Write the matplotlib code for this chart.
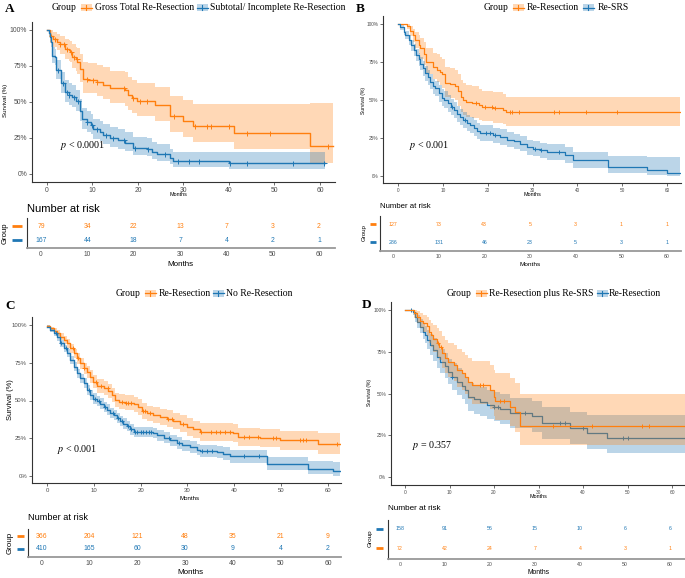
import numpy as np
import matplotlib
matplotlib.use('Agg')
import matplotlib.pyplot as plt
from matplotlib.patches import Rectangle
from matplotlib import font_manager

W, H = 685, 578
ORANGE = '#FF7F0E'
BLUE = '#1F77B4'

# ---------------- Panel A data ----------------
a_o_t = [0, 0.7, 1.3, 2.2, 2.9, 4.0, 4.75, 5.1, 5.6, 6.4, 6.7, 7.2, 7.9, 9.1, 11.0, 12.4, 13.9, 17.2, 17.9, 18.65, 19.75, 23.8, 27.1, 30.0, 32.0, 41.0, 57.9, 62.9]
a_o_s = [100, 96, 93.5, 92, 90, 87, 86, 85, 81.5, 79.6, 78, 73, 66, 65.5, 64, 62, 59.5, 58, 55, 53, 51, 48, 40, 37, 33.5, 28.7, 19.4, 19.4]
a_o_lo = [100, 91, 88, 86, 83.5, 80, 78.5, 77.5, 73.5, 71.5, 69.5, 64, 56.5, 56, 54.5, 52, 49.5, 47.5, 44.5, 42.5, 40.5, 37, 29, 26, 22.5, 17.5, 7.4, 7.4]
a_o_up = [100, 100, 98.5, 97.5, 96, 94, 93, 92.5, 90, 88.5, 87.5, 83.5, 77.5, 77, 75.5, 74, 71.5, 70.5, 67.5, 65.5, 63.5, 60.5, 54, 51.5, 48.5, 48.5, 49.5, 49.5]
a_o_cens = [0.9, 1.8, 2.9, 3.8, 4.4, 5.3, 6.0, 6.6, 8.9, 10.1, 11.0, 17.0, 19.0, 20.5, 22.0, 27.9, 32.5, 35.1, 36.0, 40.1, 44.0, 49.0, 61.7]

a_b_t = [0, 0.37, 0.73, 0.95, 1.1, 1.8, 2.05, 3.15, 4.0, 4.75, 5.5, 6.4, 7.2, 7.7, 8.9, 9.65, 10.2, 11.7, 12.4, 13.9, 15.7, 17.2, 19.0, 21.9, 23.0, 24.1, 27.1, 27.8, 39.9, 61.1]
a_b_s = [100, 97.7, 95, 92, 82, 81, 72, 63, 57, 55, 53.7, 50.7, 44, 38, 36, 34, 31, 29.4, 27, 25, 23.6, 21.8, 18.3, 17.6, 15.5, 13.7, 11.3, 8.8, 7.4, 7.4]
a_b_lo = [100, 95.5, 92, 88.5, 77, 76, 66, 56.5, 50, 48, 46.5, 43.5, 37, 31, 29, 27.5, 24.5, 23, 21, 19, 17.5, 16, 13, 12.3, 10.5, 9, 7, 5, 3.7, 3.7]
a_b_up = [100, 100, 98.5, 96, 88, 87, 79, 70.5, 65, 63, 61.5, 58.5, 52, 46, 43.5, 41.5, 38.5, 37, 34.5, 32.5, 31, 29, 25.5, 24.8, 22.5, 20.5, 17.5, 15.3, 15.3, 15.3]
a_b_cens = [2.5, 3.6, 4.4, 4.9, 6.0, 6.8, 8.9, 9.9, 11.0, 13.0, 14.5, 17.0, 19.3, 22.3, 26.0, 28.7, 31.2, 33.5, 40.2, 44.0, 54.0, 60.9]

a_labels = ['Gross Total Re-Resection', 'Subtotal/ Incomplete Re-Resection']
a_risk_o = [79, 34, 22, 13, 7, 3, 2]
a_risk_b = [167, 44, 18, 7, 4, 2, 1]
a_p = '$p$ < 0.0001'

# ---------------- Panel B data ----------------
b_o_t = [0, 2.0, 2.75, 3.3, 3.9, 4.6, 5.0, 5.7, 6.2, 7.8, 8.7, 9.3, 9.8, 10.5, 11.7, 12.8, 13.3, 14.0, 14.6, 15.2, 16.5, 18.0, 18.7, 21.3, 23.5, 24.1, 62.9]
b_o_s = [100, 99, 95.5, 92.5, 89.5, 86.5, 84, 80, 75, 72, 70, 68.5, 67, 61.5, 60.5, 59, 56, 52, 50, 49, 48, 46.5, 45.5, 45, 43.5, 42, 42]
b_o_lo = [100, 97, 92, 88, 84, 80, 77, 73, 67, 64, 62, 60, 58, 52, 51, 50, 46, 42, 40, 39, 38, 37, 36, 35, 34, 33, 33]
b_o_up = [100, 100, 99, 97, 95, 93, 91, 88, 84, 81, 80, 78, 77, 72, 71, 70, 67, 63, 61, 60, 59, 57, 56, 55, 54, 52, 52]
b_o_cens = [17.3, 19.3, 21.0, 21.6, 25.0, 25.5, 26.9, 34.7, 35.8, 41.9, 48.8]

b_b_t = [0, 0.5, 1.26, 1.6, 2.4, 2.9, 3.5, 4.1, 4.6, 5.0, 5.6, 6.1, 6.6, 7.2, 7.8, 8.3, 9.1, 9.8, 10.3, 11.1, 11.8, 12.4, 13.1, 13.9, 14.6, 15.4, 16.1, 16.9, 17.6, 18.3, 21.3, 22.8, 24.3, 25.8, 27.2, 28.7, 30.2, 31.7, 33.2, 37.3, 39.1, 46.9, 55.5, 59.9, 62.9]
b_b_s = [100, 97.8, 95, 92.7, 89.5, 86, 83, 79.5, 76.7, 74, 70.8, 67.5, 65, 62, 59, 57.6, 54.3, 51.6, 50.3, 47.7, 45.5, 43.3, 41, 39, 37, 35, 33.4, 31.6, 29.7, 28.4, 26.8, 25.7, 24, 22.9, 21.3, 19, 18, 17, 15.8, 13.6, 10.3, 5.9, 3.7, 2, 2]
b_b_lo = [100, 96, 92.5, 90, 86.5, 82.5, 79, 75.5, 72.5, 69.5, 66, 62.5, 60, 57, 54, 52.5, 49, 46.3, 45, 42.4, 40.2, 38, 35.7, 33.7, 31.7, 29.8, 28.2, 26.4, 24.6, 23.3, 21.8, 20.7, 19, 17.9, 16.3, 14, 13, 12, 10.8, 8.6, 5.5, 1.8, 0.5, 0, 0]
b_b_up = [100, 99.5, 97.5, 95.5, 92.7, 89.6, 87, 83.7, 81, 78.5, 75.5, 72.5, 70, 67, 64, 62.7, 59.6, 57, 55.6, 53, 50.8, 48.6, 46.3, 44.3, 42.3, 40.2, 38.6, 36.8, 34.8, 33.5, 31.8, 30.7, 29, 27.9, 26.3, 24, 23, 22, 20.8, 18.8, 16, 13, 12.5, 12.5, 12.5]
b_b_cens = [12.0, 15.0, 19.6, 20.6, 21.6, 30.5, 31.9, 35.8]

b_labels = ['Re-Resection', 'Re-SRS']
b_risk_o = [127, 73, 43, 5, 3, 1, 1]
b_risk_b = [286, 131, 46, 23, 5, 3, 1]
b_p = '$p$ < 0.001'

# ---------------- Panel C data ----------------
c_o_t = [0, 0.7, 1.4, 2.1, 2.8, 3.55, 4.26, 4.97, 5.7, 6.4, 7.1, 7.8, 8.5, 9.2, 9.9, 10.65, 12.1, 13.1, 13.85, 14.55, 15.3, 16.7, 18.5, 19.5, 20.2, 21.3, 22.7, 24.1, 25.6, 27, 28.4, 29.8, 31.25, 32.7, 39.8, 40.8, 45.5, 49.7, 57.9, 62.5]
c_o_s = [99.3, 97.8, 96.2, 94.5, 92.3, 90, 87.8, 84.5, 81.2, 77.9, 74.6, 71.2, 69, 65.7, 62.4, 59.5, 58, 56.4, 53.5, 50.2, 49.1, 48.5, 47.6, 45.8, 43.1, 41.4, 40.3, 39.2, 38, 36.5, 34.7, 32.5, 30.8, 29.2, 28.5, 25.9, 25.4, 23.7, 21, 21]
c_o_lo = [98.5, 96.5, 94.5, 92.5, 90, 87.5, 85, 81.5, 78, 74.5, 71, 67.5, 65, 61.5, 58, 55, 53.5, 51.8, 48.8, 45.5, 44.3, 43.6, 42.6, 40.7, 38, 36.2, 35, 33.9, 32.6, 31, 29.1, 26.8, 25.1, 23.4, 22.6, 20, 19.4, 17.5, 14.8, 14.8]
c_o_up = [100, 99, 98, 96.5, 94.6, 92.5, 90.6, 87.5, 84.4, 81.3, 78.2, 75, 73, 70, 67, 64, 62.6, 61, 58.2, 55, 54, 53.4, 52.6, 50.9, 48.2, 46.6, 45.6, 44.5, 43.4, 42, 40.3, 38.2, 36.5, 35, 34.4, 31.8, 31.4, 29.9, 28.5, 28.5]
c_o_cens = [5.5, 6.6, 8.0, 10.5, 11.5, 13.0, 16.0, 16.8, 17.4, 18.0, 20.6, 21.0, 22.0, 25.8, 26.6, 29.0, 32.9, 35.0, 36.0, 37.0, 38.0, 39.0, 42.0, 43.2, 45.0, 48.3, 49.0, 54.0, 54.6, 55.2, 62.0]

c_b_t = [0, 0.7, 1.4, 2.1, 2.8, 3.55, 4.26, 4.97, 5.7, 6.4, 7.1, 7.8, 8.5, 9.2, 9.9, 10.65, 11.4, 12.1, 12.8, 13.5, 14.2, 14.9, 15.6, 16.3, 17.0, 17.8, 18.5, 22.7, 23.4, 24.9, 26.3, 27.7, 28.8, 30.5, 32, 32.7, 36.2, 37.6, 39.1, 47, 55.75, 61.1, 62.5]
c_b_s = [98.9, 96.7, 94.5, 91.8, 87.8, 84.5, 81.2, 76.8, 72.3, 67.9, 64.6, 61.3, 56.9, 53.5, 51.3, 49.8, 48, 45.8, 44, 41.8, 40.3, 38.5, 36.5, 34.7, 33, 30.8, 29.2, 28.5, 27, 25.4, 23.7, 21.9, 20.4, 19.2, 17.5, 16.4, 15.9, 14.8, 13, 8.2, 4.9, 3.3, 3.3]
c_b_lo = [97.9, 95.2, 92.7, 89.7, 85.5, 82, 78.5, 74, 69.3, 64.8, 61.4, 58, 53.6, 50.1, 47.9, 46.3, 44.5, 42.3, 40.5, 38.3, 36.8, 35, 33, 31.2, 29.5, 27.3, 25.7, 24.9, 23.4, 21.8, 20, 18.2, 16.7, 15.4, 13.7, 12.5, 11.9, 10.7, 8.8, 4.3, 1.5, 0, 0]
c_b_up = [99.9, 98.2, 96.3, 93.9, 90.1, 87, 83.9, 79.6, 75.3, 71, 67.8, 64.6, 60.2, 56.9, 54.7, 53.3, 51.5, 49.3, 47.5, 45.3, 43.8, 42, 40, 38.2, 36.5, 34.3, 32.7, 32.1, 30.6, 29, 27.4, 25.6, 24.1, 23, 21.3, 20.3, 19.9, 18.9, 17.2, 12.5, 10, 9, 9]
c_b_cens = [2.0, 3.0, 4.0, 9.0, 10.2, 11.0, 12.4, 14.0, 15.2, 16.0, 17.2, 18.0, 18.8, 19.3, 20.0, 20.6, 21.2, 21.8, 22.2, 26.0, 28.2, 33.2, 34.2, 35.2, 42.0, 45.2]

c_labels = ['Re-Resection', 'No Re-Resection']
c_risk_o = [366, 204, 121, 48, 35, 21, 9]
c_risk_b = [410, 165, 60, 30, 9, 4, 2]
c_p = '$p$ < 0.001'

# ---------------- Panel D data ----------------
d_o_t = [0, 2.0, 2.6, 3.4, 4.1, 4.9, 5.5, 5.8, 6.4, 7.1, 7.7, 8.25, 9.0, 9.75, 10.9, 11.6, 12.75, 13.5, 14.25, 15, 19.1, 19.9, 20.25, 23.6, 24.75, 25.9, 63]
d_o_s = [100, 98.4, 96, 93.6, 92, 90.4, 87, 85, 82.5, 80, 78, 74, 71, 69, 67, 64, 62, 59.8, 57, 55, 51.8, 48, 45.8, 42.2, 39.2, 30.7, 30.7]
d_o_lo = [100, 95, 92, 89, 87, 84.5, 80.5, 78, 75, 72, 70, 65.5, 62, 60, 57.5, 54, 52, 49.5, 46.5, 44, 40.5, 36.5, 34, 30.5, 27, 19, 19]
d_o_up = [100, 100, 99.5, 98, 97, 96, 94, 92.5, 91, 89, 87.5, 84.5, 82, 80.5, 79, 76.5, 75, 73, 71, 69.5, 67, 64, 62.5, 59.5, 56.5, 50, 50]
d_o_cens = [7.5, 8.1, 16.9, 17.6, 21.4, 22.3, 33.2, 42.0, 53.3, 54.8]

d_b_t = [0, 1.7, 2.25, 2.8, 3.4, 4.0, 4.5, 5.0, 5.6, 6.4, 7.1, 7.9, 9.0, 9.75, 10.5, 11.6, 12.75, 13.5, 14.25, 15.4, 16.9, 18.4, 19.9, 21.4, 23.6, 28.5, 30.75, 37.1, 40.9, 45.4, 63]
d_b_s = [100, 99, 96, 93, 90, 87, 85, 82, 79, 76, 72, 69, 66.5, 63, 60, 57, 54.6, 52, 48, 46.6, 45.2, 43.2, 42.2, 40.6, 38.6, 36.3, 32.3, 29.3, 26.3, 23.3, 23.3]
d_b_lo = [100, 97, 93, 89.5, 86, 82.5, 80, 76.5, 73, 69.5, 65, 62, 59, 55.5, 52, 49, 46.5, 43.5, 39.5, 38, 36.5, 34.5, 33.5, 31.5, 29.5, 27, 23, 20, 17, 14.3, 14.3]
d_b_up = [100, 100, 99, 97, 94.5, 92, 90.5, 88, 85.5, 83, 79.5, 76.5, 74, 70.5, 68, 65, 62.5, 60, 56.5, 55, 54, 52, 51, 49.5, 47.5, 45.5, 42, 39, 37, 37, 37]
d_b_cens = [1.3, 10.5, 19.9, 21.0, 27.0, 34.9, 36.0, 39.9, 49.0, 50.0]

d_labels = ['Re-Resection plus Re-SRS', 'Re-Resection']
d_risk_b = [158, 91, 56, 15, 10, 6, 6]
d_risk_o = [72, 42, 24, 7, 4, 3, 1]
d_p = '$p$ = 0.357'

risk_times = [0, 10, 20, 30, 40, 50, 60]

# ---------------- fonts ----------------
installed = {f.name for f in font_manager.fontManager.ttflist}
SANS = 'Liberation Sans' if 'Liberation Sans' in installed else 'DejaVu Sans'
NARROW = 'Liberation Sans Narrow' if 'Liberation Sans Narrow' in installed else SANS
SERIF = 'Liberation Serif' if 'Liberation Serif' in installed else 'DejaVu Serif'
plt.rcParams['mathtext.fontset'] = 'stix'
LEG_FS = 6.9

fig = plt.figure(figsize=(W / 100, H / 100), dpi=100)


def add_ax(l, t, r, b):
    return fig.add_axes([l / W, 1 - b / H, (r - l) / W, (b - t) / H])


def surv_at(t, s, x):
    idx = np.searchsorted(np.asarray(t), np.asarray(x), side='right') - 1
    return np.asarray(s)[idx]


def draw_curve(ax, t, s, lo, up, cens, color, lw, ms, fz, lz):
    ax.fill_between(t, lo, up, step='post', color=color, alpha=0.3, lw=0, zorder=fz)
    ax.step(t, s, where='post', color=color, lw=lw, zorder=lz)
    ax.plot(cens, surv_at(t, s, cens), ls='none', marker='+', color=color,
            ms=ms, mew=0.7, zorder=lz)


def setup_plot(ax, g, fs, font):
    ppm = (g['x60'] - g['x0']) / 60.0
    ppy = (g['y0'] - g['y100']) / 100.0
    ax.set_xlim((g['left'] - g['x0']) / ppm, (g['right'] - g['x0']) / ppm)
    ax.set_ylim((g['y0'] - g['bottom']) / ppy, (g['y0'] - g['top']) / ppy)
    ax.set_xticks(risk_times)
    ax.set_yticks([0, 25, 50, 75, 100])
    ax.set_yticklabels(['0%', '25%', '50%', '75%', '100%'])
    for sp in ['top', 'right']:
        ax.spines[sp].set_visible(False)
    for sp in ['left', 'bottom']:
        ax.spines[sp].set_color('#333333')
        ax.spines[sp].set_linewidth(0.8)
    ax.tick_params(labelsize=fs, colors='#333333', labelcolor='#4D4D4D',
                   length=2, width=0.5, pad=1.5)
    for lab in ax.get_xticklabels() + ax.get_yticklabels():
        lab.set_fontfamily(font)
    ax.patch.set_alpha(0)


def setup_table(ax, g, rows, fs, font):
    ppm = (g['x60'] - g['x0']) / 60.0
    ax.set_xlim((g['left'] - g['x0']) / ppm, (g['right'] - g['x0']) / ppm)
    rt, rb = g['rt'], g['rb']
    unit = rb - rt
    ax.set_ylim(-(g['bottom'] - rb) / unit, 1 + (rt - g['top']) / unit)
    ax.set_xticks(risk_times)
    ax.set_yticks([])
    for sp in ['top', 'right']:
        ax.spines[sp].set_visible(False)
    ax.spines['left'].set_color('#333333')
    ax.spines['left'].set_linewidth(0.8)
    ax.spines['bottom'].set_color('#999999')
    ax.spines['bottom'].set_linewidth(1.3)
    ax.tick_params(axis='x', labelsize=fs, labelcolor='#4D4D4D', length=0, pad=2.5)
    for lab in ax.get_xticklabels():
        lab.set_fontfamily(font)
    for yv, vals, color in rows:
        for x, v in zip(risk_times, vals):
            ax.text(x, yv, str(v), color=color, fontsize=fs * 1.02, ha='center',
                    va='center', fontfamily=font)
    ax.patch.set_alpha(0)


panels = [
    dict(letter='A', letter_xy=(10, 9),
         plot=dict(x0=47, x60=320, y100=30, y0=174, left=32, right=335, top=22, bottom=182),
         table=dict(x0=41, x60=319, left=27, right=335, top=218, bottom=248, rt=226, rb=240),
         curves=[(a_o_t, a_o_s, a_o_lo, a_o_up, a_o_cens, ORANGE),
                 (a_b_t, a_b_s, a_b_lo, a_b_up, a_b_cens, BLUE)],
         rows=[(1, a_risk_o, ORANGE), (0, a_risk_b, BLUE)],
         labels=a_labels, leg_y=7.5, leg_x=[52, 81, 95, 197, 210],
         p=a_p, p_xy=(60, 146), p_fs=7.2,
         ylab_xy=(6, 100), ylab_fs=4.4, months_xy=(178, 195), months_fs=3.9,
         nar_xy=(27, 209), nar_fs=8.0, tmonths_xy=(180, 264), tmonths_fs=5.8,
         grp_xy=(5, 233), grp_fs=5.6, dash_x=(12, 22),
         tick_fs=4.9, ttick_fs=4.8, font=SANS, lw=1.0, ms=3.6, d_mode=False),
    dict(letter='B', letter_xy=(360, 9),
         plot=dict(x0=398, x60=667, y100=24, y0=176, left=383, right=681, top=16, bottom=183),
         table=dict(x0=393, x60=667, left=380, right=681, top=216, bottom=251, rt=224, rb=242),
         curves=[(b_o_t, b_o_s, b_o_lo, b_o_up, b_o_cens, ORANGE),
                 (b_b_t, b_b_s, b_b_lo, b_b_up, b_b_cens, BLUE)],
         rows=[(1, b_risk_o, ORANGE), (0, b_risk_b, BLUE)],
         labels=b_labels, leg_y=7.5, leg_x=[484, 513, 527, 583, 598],
         p=b_p, p_xy=(409, 146), p_fs=7.2,
         ylab_xy=(364, 101), ylab_fs=3.6, months_xy=(532, 195), months_fs=3.9,
         nar_xy=(380, 207), nar_fs=5.6, tmonths_xy=(530, 264), tmonths_fs=4.6,
         grp_xy=(364, 233), grp_fs=4.4, dash_x=(370, 376),
         tick_fs=3.4, ttick_fs=3.7, font=SANS, lw=0.9, ms=3.0, d_mode=False),
    dict(letter='C', letter_xy=(10, 306),
         plot=dict(x0=47, x60=328, y100=325, y0=476, left=32, right=341, top=317, bottom=483),
         table=dict(x0=42, x60=328, left=28, right=341, top=529, bottom=557, rt=536, rb=549),
         curves=[(c_o_t, c_o_s, c_o_lo, c_o_up, c_o_cens, ORANGE),
                 (c_b_t, c_b_s, c_b_lo, c_b_up, c_b_cens, BLUE)],
         rows=[(1, c_risk_o, ORANGE), (0, c_risk_b, BLUE)],
         labels=c_labels, leg_y=293, leg_x=[116, 145, 159, 213, 226],
         p=c_p, p_xy=(57, 449), p_fs=7.2,
         ylab_xy=(11, 400), ylab_fs=5.4, months_xy=(190, 499), months_fs=4.4,
         nar_xy=(28, 518), nar_fs=6.6, tmonths_xy=(190, 573), tmonths_fs=5.8,
         grp_xy=(10, 543), grp_fs=5.8, dash_x=(17, 24),
         tick_fs=4.3, ttick_fs=4.9, font=NARROW, lw=1.0, ms=3.2, d_mode=False),
    dict(letter='D', letter_xy=(367, 305),
         plot=dict(x0=405, x60=672, y100=310, y0=477, left=391, right=685, top=302, bottom=485),
         table=dict(x0=400, x60=670, left=388, right=685, top=520, bottom=559, rt=529, rb=548),
         curves=[(d_b_t, d_b_s, d_b_lo, d_b_up, d_b_cens, BLUE),
                 (d_o_t, d_o_s, d_o_lo, d_o_up, d_o_cens, ORANGE)],
         rows=[(1, d_risk_b, BLUE), (0, d_risk_o, ORANGE)],
         labels=d_labels, leg_y=293, leg_x=[447, 476, 489, 597, 609],
         p=d_p, p_xy=(412, 446), p_fs=7.2,
         ylab_xy=(370, 392), ylab_fs=3.6, months_xy=(538, 497), months_fs=3.9,
         nar_xy=(388, 509), nar_fs=5.9, tmonths_xy=(539, 573), tmonths_fs=4.9,
         grp_xy=(370, 538), grp_fs=4.6, dash_x=(376, 383),
         tick_fs=3.5, ttick_fs=3.7, font=SANS, lw=0.9, ms=3.0, d_mode=True),
]

# overlay axes in pixel coordinates for free text / legend
ov = fig.add_axes([0, 0, 1, 1], zorder=10)
ov.set_xlim(0, W)
ov.set_ylim(H, 0)
ov.axis('off')

for P in panels:
    g = P['plot']
    ax = add_ax(g['left'], g['top'], g['right'], g['bottom'])
    setup_plot(ax, g, P['tick_fs'], P['font'])
    if P['d_mode']:
        for i, (t, s, lo, up, cens, col) in enumerate(P['curves']):
            draw_curve(ax, t, s, lo, up, cens, col, P['lw'], P['ms'], 1 + 2 * i, 2 + 2 * i)
    else:
        for t, s, lo, up, cens, col in P['curves']:
            draw_curve(ax, t, s, lo, up, cens, col, P['lw'], P['ms'], 1, 3)

    tg = P['table']
    tax = add_ax(tg['left'], tg['top'], tg['right'], tg['bottom'])
    setup_table(tax, tg, P['rows'], P['ttick_fs'], P['font'])

    ov.text(*P['letter_xy'], P['letter'], fontfamily=SERIF, fontweight='bold',
            fontsize=9.5, ha='center', va='center', color='black')
    lx = P['leg_x']
    ly = P['leg_y']
    ov.text(lx[0], ly, 'Group', fontfamily=SERIF, fontsize=LEG_FS, ha='left', va='center')
    leg_cols = [ORANGE, BLUE]
    for k, (kx, tx) in enumerate([(lx[1], lx[2]), (lx[3], lx[4])]):
        col = leg_cols[k]
        ov.add_patch(Rectangle((kx, ly - 3.5), 11, 7, facecolor=col, alpha=0.3, lw=0))
        ov.plot([kx, kx + 11], [ly, ly], color=col, lw=0.9)
        ov.plot([kx + 5.5, kx + 5.5], [ly - 2.5, ly + 2.5], color=col, lw=0.8)
        ov.text(tx, ly, P['labels'][k], fontfamily=SERIF, fontsize=LEG_FS,
                ha='left', va='center')
    ov.text(*P['p_xy'], P['p'], fontfamily=SERIF, fontsize=P['p_fs'], ha='left', va='center')
    ov.text(*P['ylab_xy'], 'Survival (%)', fontfamily=P['font'], fontsize=P['ylab_fs'],
            rotation=90, ha='center', va='center')
    ov.text(*P['months_xy'], 'Months', fontfamily=P['font'], fontsize=P['months_fs'],
            ha='center', va='center')
    ov.text(*P['nar_xy'], 'Number at risk', fontfamily=P['font'], fontsize=P['nar_fs'],
            ha='left', va='center')
    ov.text(*P['tmonths_xy'], 'Months', fontfamily=P['font'], fontsize=P['tmonths_fs'],
            ha='center', va='center')
    ov.text(*P['grp_xy'], 'Group', fontfamily=P['font'], fontsize=P['grp_fs'],
            rotation=90, ha='center', va='center')
    row_px = {1: tg['rt'], 0: tg['rb']}
    for yv, vals, col in P['rows']:
        ov.plot(list(P['dash_x']), [row_px[yv], row_px[yv]], color=col, lw=2.0,
                solid_capstyle='butt')

fig.savefig('out.png', dpi=100)
